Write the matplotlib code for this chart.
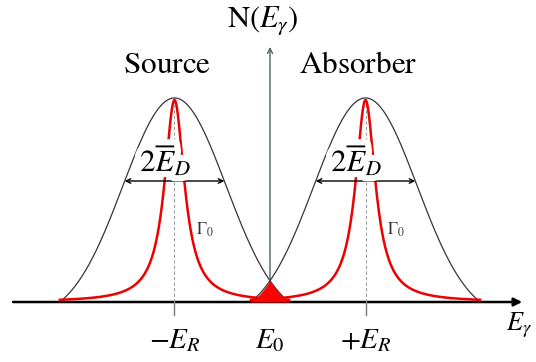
import numpy as np
import matplotlib.pyplot as plt
import matplotlib.patheffects as pe

plt.rcParams['mathtext.fontset'] = 'stix'

# energies in units of the recoil energy E_R, with E0 at zero
line_centers = [-1.0, 1.0]
line_names = ['Source', 'Absorber']
tick_positions = [-1.0, 0.0, 1.0]
tick_labels = [r'$-E_R$', r'$E_0$', r'$+E_R$']

doppler_sigma = 0.54    # thermal (Doppler) broadening
doppler_cut = 1.2
natural_gamma = 0.126   # natural line width
natural_peak = 0.99
overlap_width = 0.21
arrow_level = 0.593     # height of the 2*E_D marker


def doppler(x, x0):
    d = x - x0
    c = np.exp(-doppler_cut**2 / (2 * doppler_sigma**2))
    g = (np.exp(-d**2 / (2 * doppler_sigma**2)) - c) / (1 - c)
    return np.where(np.abs(d) <= doppler_cut, g, 0.0)


def natural(x, x0):
    d = x - x0
    return natural_peak * natural_gamma**2 / (d**2 + natural_gamma**2)


fig = plt.figure(figsize=(5.36, 3.62), dpi=100)
ax = fig.add_axes([0, 0, 1, 1])
ax.set_xlim(-2.827, 2.785)
ax.set_ylim(-0.294, 1.480)
ax.axis('off')

# axes
ax.annotate('', xy=(2.64, 0), xytext=(-2.69, 0),
            arrowprops=dict(arrowstyle='-|>', color='black', lw=1.8,
                            mutation_scale=12, shrinkA=0, shrinkB=0), zorder=2)
ax.annotate('', xy=(0, 1.25), xytext=(0, 0),
            arrowprops=dict(arrowstyle='->', color='#4a6658', lw=1.0,
                            mutation_scale=9, shrinkA=0, shrinkB=0), zorder=2)

c = np.exp(-doppler_cut**2 / (2 * doppler_sigma**2))
half = doppler_sigma * np.sqrt(-2 * np.log(arrow_level * (1 - c) + c))

for x0, name in zip(line_centers, line_names):
    x = np.linspace(x0 - doppler_cut, x0 + doppler_cut, 800)
    ax.plot([x0, x0], [0, -0.064], color='#777777', lw=1.0, zorder=2)
    ax.plot([x0, x0], [0, 1.0], color='#a0a0a0', lw=0.8, ls=(0, (3, 2)), zorder=2)
    ax.plot(x, doppler(x, x0), color='#35353f', lw=0.9, zorder=3)
    ax.plot(x, natural(x, x0), color='#ee0000', lw=1.8, zorder=4)
    ax.annotate('', xy=(x0 - half, arrow_level), xytext=(x0 + half, arrow_level),
                arrowprops=dict(arrowstyle='<->', color='black', lw=1.0,
                                mutation_scale=8, shrinkA=0, shrinkB=0), zorder=6)
    t = ax.text(x0 - 0.09, 0.70, r'$2\overline{E}_D$', fontsize=22,
                ha='center', va='center', zorder=7)
    t.set_path_effects([pe.withStroke(linewidth=9, foreground='white')])
    ax.text(x0 + 0.22, 0.353, r'$\Gamma_0$', fontsize=12, color='#333333',
            ha='left', va='center', zorder=7)
    ax.text(x0 - 0.08, 1.123, r'$\mathrm{%s}$' % name, fontsize=22.5,
            ha='center', va='baseline')

# overlap of emission and absorption lines around E0
h0 = float(doppler(0.0, line_centers[0]))
xs = np.linspace(-overlap_width, overlap_width, 200)
ax.fill_between(xs, 0, h0 * (1 - np.abs(xs) / overlap_width) ** 1.4,
                color='#ff0000', lw=0, zorder=5)

for xp, lab in zip(tick_positions, tick_labels):
    ax.text(xp, -0.225, lab, fontsize=21, ha='center', va='baseline')

ax.text(-0.073, 1.348, r'$\mathrm{N}(E_\gamma)$', fontsize=22, ha='center', va='baseline')
ax.text(2.47, -0.137, r'$E_\gamma$', fontsize=19, ha='left', va='baseline')

fig.savefig('out.png', dpi=100)
